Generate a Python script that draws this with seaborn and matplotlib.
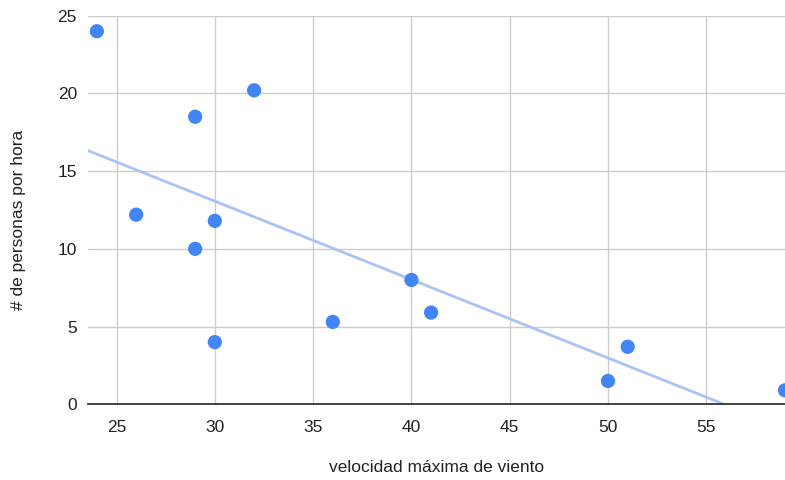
import pandas as pd
import matplotlib.pyplot as plt
import seaborn as sns

# values
viento = [24, 26, 29, 29, 30, 30, 32, 36, 40, 41, 50, 51, 59]
personas = [24.0, 12.2, 18.5, 10.0, 11.8, 4.0, 20.2, 5.3, 8.0, 5.9, 1.5, 3.7, 0.9]
x_ticks = [25, 30, 35, 40, 45, 50, 55]
y_ticks = [0, 5, 10, 15, 20, 25]

df = pd.DataFrame({"viento": viento, "personas": personas})

sns.set_style("white")
plt.rcParams["font.family"] = ["Liberation Sans", "DejaVu Sans"]

fig = plt.figure(figsize=(7.85, 4.80), dpi=100)
ax = fig.add_axes([0.1121, 0.1577, 0.8879, 0.8096])

# trendline (linear fit), stretched over the whole axis
ax.set_xlim(23.55, 59.0)
sns.regplot(data=df, x="viento", y="personas", scatter=False, ci=None, truncate=False,
            color="#a8c4f5", line_kws={"linewidth": 2, "zorder": 2}, ax=ax)
sns.scatterplot(data=df, x="viento", y="personas", color="#4285f4", s=105,
                edgecolor="none", zorder=3, ax=ax)
ax.set_xlim(23.55, 59.0)
ax.set_ylim(0, 25)

ax.set_xticks(x_ticks)
ax.set_yticks(y_ticks)
ax.grid(True, color="#cccccc", linewidth=1)
ax.set_axisbelow(True)
for side in ["top", "right", "left"]:
    ax.spines[side].set_visible(False)
ax.spines["bottom"].set_color("#333333")
ax.spines["bottom"].set_linewidth(1.3)
ax.spines["bottom"].set_zorder(4)
ax.tick_params(length=0, labelsize=12.5, colors="#222222", pad=8)
ax.tick_params(axis="x", pad=11)

ax.set_xlabel("velocidad máxima de viento", fontsize=12.5, color="#222222", va="center")
ax.set_ylabel("# de personas por hora", fontsize=12.5, color="#222222", va="center")
ax.xaxis.set_label_coords(0.5, -0.162)
ax.yaxis.set_label_coords(-0.1, 0.474)

fig.savefig("out.png", dpi=100)
